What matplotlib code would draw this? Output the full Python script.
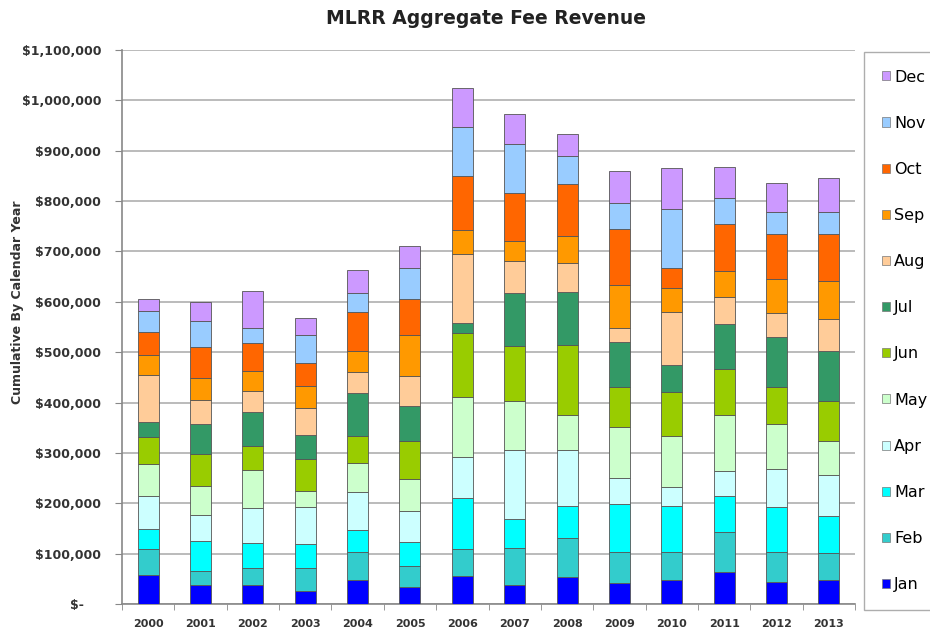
import matplotlib
matplotlib.use("Agg")
import matplotlib.pyplot as plt
import numpy as np
from matplotlib.patches import Patch
from matplotlib.ticker import FuncFormatter, MultipleLocator

plt.rcParams["font.family"] = ["DejaVu Sans"]

years = ["2000", "2001", "2002", "2003", "2004", "2005", "2006",
         "2007", "2008", "2009", "2010", "2011", "2012", "2013"]
months = ["Jan", "Feb", "Mar", "Apr", "May", "Jun",
          "Jul", "Aug", "Sep", "Oct", "Nov", "Dec"]

# monthly fee revenue, thousands of dollars, per year (Jan..Dec)
jan = [58, 37, 37, 25, 48, 33, 56, 38, 54, 42, 47, 63, 43, 47]
feb = [52, 29, 35, 47, 55, 43, 54, 73, 77, 62, 56, 79, 60, 54]
mar = [38, 60, 50, 48, 43, 48, 101, 57, 63, 95, 92, 73, 90, 73]
apr = [67, 51, 69, 73, 77, 60, 81, 138, 112, 52, 38, 49, 75, 83]
may = [62, 58, 75, 31, 56, 65, 119, 97, 69, 100, 101, 111, 89, 67]
jun = [54, 63, 48, 64, 55, 75, 127, 109, 140, 80, 86, 92, 74, 79]
jul = [30, 59, 67, 48, 85, 69, 20, 106, 105, 89, 54, 88, 99, 100]
aug = [93, 48, 41, 54, 41, 59, 137, 64, 57, 28, 105, 55, 48, 63]
sep = [41, 44, 41, 42, 42, 82, 47, 39, 53, 85, 48, 52, 67, 75]
oct_ = [46, 61, 55, 46, 77, 71, 108, 96, 103, 111, 40, 92, 89, 94]
nov = [40, 51, 30, 56, 39, 62, 98, 96, 57, 53, 118, 53, 44, 43]
dec = [24, 38, 73, 33, 46, 43, 76, 60, 44, 63, 80, 60, 57, 67]

series = [jan, feb, mar, apr, may, jun, jul, aug, sep, oct_, nov, dec]
colors = ["#0000FF", "#33CCCC", "#00FFFF", "#CCFFFF", "#CCFFCC", "#99CC00",
          "#339966", "#FFCC99", "#FF9900", "#FF6600", "#99CCFF", "#CC99FF"]

fig = plt.figure(figsize=(9.3, 6.32), dpi=100)
ax = fig.add_axes([122/930, 28/632, (855-122)/930, (604-50)/632])

x = np.arange(len(years))
bottom = np.zeros(len(years))
for vals, col in zip(series, colors):
    v = np.array(vals, dtype=float) * 1000
    ax.bar(x, v, width=0.4, bottom=bottom, color=col, edgecolor="#555555",
           linewidth=0.6, zorder=3)
    bottom += v

ax.set_xlim(-0.5, len(years) - 0.5)
ax.set_ylim(0, 1100000)
ax.yaxis.set_major_locator(MultipleLocator(100000))

def fmt(v, pos):
    if v == 0:
        return "$-    "
    return "${:,.0f}".format(v)

ax.yaxis.set_major_formatter(FuncFormatter(fmt))
ax.set_xticks(x)
ax.set_xticklabels(years)
ax.set_xticks(np.arange(-0.5, len(years), 1.0), minor=True)
ax.tick_params(axis="x", which="major", length=0, pad=11, labelsize=8,
               labelcolor="#333333")
ax.tick_params(axis="x", which="minor", length=4, color="#888888")
ax.tick_params(axis="y", which="major", length=5, color="#888888",
               labelsize=9, labelcolor="#333333", pad=10)
for lab in ax.get_xticklabels() + ax.get_yticklabels():
    lab.set_fontweight("bold")

ax.grid(axis="y", color="#BBBBBB", linewidth=1.4, zorder=0)
ax.set_axisbelow(True)
for s in ["top", "right"]:
    ax.spines[s].set_visible(False)
ax.spines["left"].set_color("#888888")
ax.spines["bottom"].set_color("#888888")
ax.spines["left"].set_linewidth(1.2)
ax.spines["bottom"].set_linewidth(1.2)

ax.set_ylabel("Cumulative By Calendar Year", fontsize=9, fontweight="bold",
              color="#333333")
ax.yaxis.set_label_coords((24 - 122) / 733, (604 - 302) / 554)
fig.text(486/930, 1 - 19/632, "MLRR Aggregate Fee Revenue", ha="center",
         va="center", fontsize=13.5, fontweight="bold", color="#222222")

handles = [Patch(facecolor=c, edgecolor="#777777", linewidth=0.5)
           for c in colors][::-1]
leg = fig.legend(handles, months[::-1], loc="upper left",
                 bbox_to_anchor=(864/930, 1 - 52/632), fontsize=11.5,
                 labelspacing=1.95, handlelength=0.5, handleheight=0.5,
                 handletextpad=0.3, borderpad=1.1, borderaxespad=0.0,
                 frameon=True, fancybox=False, edgecolor="#999999")
leg.get_frame().set_linewidth(1.0)

fig.savefig("out.png", dpi=100)
